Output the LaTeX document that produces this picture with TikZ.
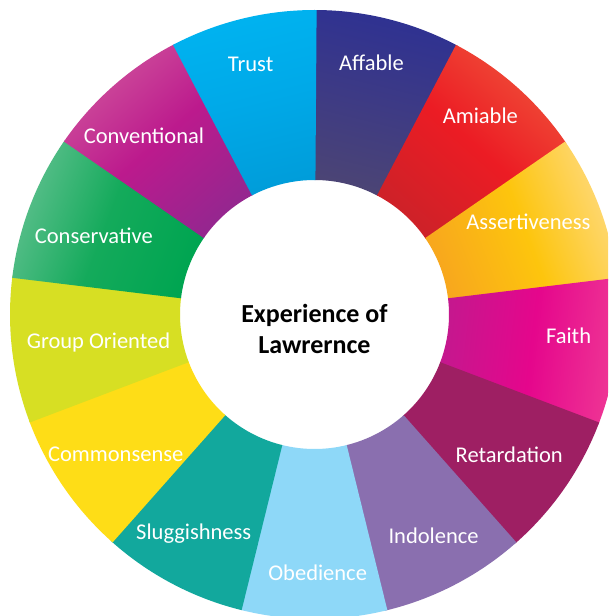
\documentclass[tikz,border=0pt]{standalone}
\usepackage{fontspec}
\setmainfont{Carlito}
\usetikzlibrary{calc}

\tikzset{
  lab/.style={text=white, font=\fontsize{22.5}{26}\selectfont, inner sep=0pt, text height=14pt, text depth=0pt},
  hub/.style={font=\fontsize{26}{31}\selectfont\bfseries, align=center, inner sep=0pt}
}

\begin{document}
\begin{tikzpicture}[x=1pt, y=1pt]
\useasboundingbox (-314.5,-301.5) rectangle (293.5,314.5);
\fill[white] (-314.5,-301.5) rectangle (293.5,314.5);
\clip (-314.5,-301.5) rectangle (293.5,314.5);
\def\rin{134.5pt}
\def\rout{304.5pt}
\foreach \i/\ci/\cm/\co/\lab/\la/\lr in {
  0/4B4475/3D3A85/2E3192/Affable/77.2/257,
  1/CF2128/EC1C24/EF4E38/Amiable/50/258,
  2/F8A81D/FDC50D/FED97A/Assertiveness/23.2/232.7,
  3/C4188E/E5068C/EF3895/Faith/-4.9/255,
  4/9E1F63/9E1F63/9E1F63/Retardation/-36/240.7,
  5/8A6FAF/8A6FAF/8A6FAF/Indolence/-61.8/252,
  6/8ED8F8/8ED8F8/8ED8F8/Obedience/-89.3/258.8,
  7/12A89D/12A89D/12A89D/Sluggishness/-119/249,
  8/FEDD17/FEDD17/FEDD17/Commonsense/-144.9/243,
  9/D7DF23/D7DF23/D7DF23/Group Oriented/-173/217.6,
  10/00A551/14AA5B/5BBF8C/Conservative/160.6/234,
  11/96268F/BC1A8D/CE4F9B/Conventional/133.7/246.8,
  12/009DDA/00A9E8/00B3F0/Trust/104.3/258.5}
{
  \pgfmathsetmacro\a{90-\i*360/13}
  \pgfmathsetmacro\b{90-(\i+1)*360/13-0.4}
  \pgfmathsetmacro\m{90-(\i+0.5)*360/13-90}
  \definecolor{segin}{HTML}{\ci}
  \definecolor{segmid}{HTML}{\cm}
  \definecolor{segout}{HTML}{\co}
  \shade[top color=segout, bottom color=segin, middle color=segmid, shading angle=\m]
    (\a:\rin) arc[start angle=\a, end angle=\b, radius=\rin]
    -- (\b:\rout) arc[start angle=\b, end angle=\a, radius=\rout] -- cycle;
  \node[lab] (l\i) at (\la:\lr) {\lab};
}
\node[hub] (ctr) at (0,-14) {Experience of\\Lawrernce};
\end{tikzpicture}
\end{document}
